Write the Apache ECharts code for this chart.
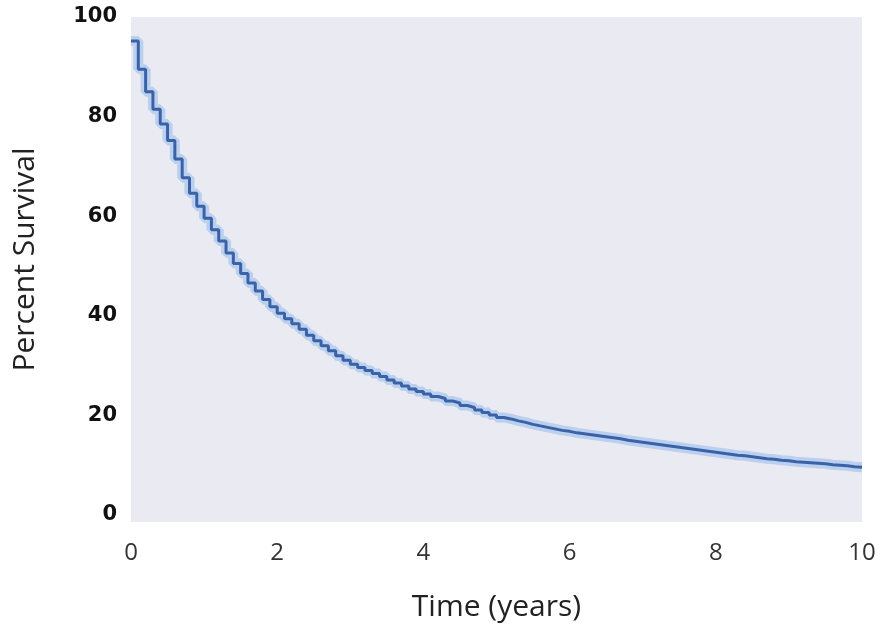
<!DOCTYPE html>
<html>
<head>
<meta charset="utf-8">
<script src="https://cdn.jsdelivr.net/npm/echarts@6/dist/echarts.min.js"></script>
<style>
  html, body { margin: 0; padding: 0; background: #fff; }
  #chart { width: 886px; height: 635px; }
</style>
</head>
<body>
<div id="chart"></div>
<script>
// survival curve (time in years, percent surviving)
const times = [
  0.0, 0.1, 0.2, 0.3, 0.4, 0.5, 0.6, 0.7, 0.8, 0.9,
  1.0, 1.1, 1.2, 1.3, 1.4, 1.5, 1.6, 1.7, 1.8, 1.9,
  2.0, 2.1, 2.2, 2.3, 2.4, 2.5, 2.6, 2.7, 2.8, 2.9,
  3.0, 3.1, 3.2, 3.3, 3.4, 3.5, 3.6, 3.7, 3.8, 3.9,
  4.0, 4.1, 4.2, 4.3, 4.4, 4.5, 4.6, 4.7, 4.8, 4.9,
  5.0, 5.1, 5.2, 5.3, 5.4, 5.5, 5.6, 5.7, 5.8, 5.9,
  6.0, 6.1, 6.2, 6.3, 6.4, 6.5, 6.6, 6.7, 6.8, 6.9,
  7.0, 7.1, 7.2, 7.3, 7.4, 7.5, 7.6, 7.7, 7.8, 7.9,
  8.0, 8.1, 8.2, 8.3, 8.4, 8.5, 8.6, 8.7, 8.8, 8.9,
  9.0, 9.1, 9.2, 9.3, 9.4, 9.5, 9.6, 9.7, 9.8, 9.9,
  10.0
];
const survival = [
  95.2, 89.5, 85.0, 81.5, 78.5, 75.2, 71.5, 67.7, 64.6, 62.0,
  59.6, 57.3, 55.0, 52.6, 50.5, 48.5, 46.6, 45.0, 43.3, 41.8,
  40.5, 39.4, 38.4, 37.3, 36.1, 35.0, 34.0, 33.0, 32.0, 31.1,
  30.3, 29.6, 29.0, 28.4, 27.8, 27.1, 26.5, 25.9, 25.3, 24.8,
  24.3, 23.8, 23.4, 22.9, 22.5, 22.0, 21.6, 21.1, 20.6, 20.1,
  19.6, 19.3, 18.9, 18.6, 18.2, 17.9, 17.6, 17.3, 17.0, 16.8,
  16.5, 16.3, 16.1, 15.9, 15.7, 15.5, 15.3, 15.0, 14.8, 14.6,
  14.4, 14.2, 14.0, 13.8, 13.6, 13.4, 13.2, 13.0, 12.8, 12.6,
  12.4, 12.2, 12.0, 11.9, 11.7, 11.5, 11.3, 11.2, 11.0, 10.9,
  10.7, 10.6, 10.5, 10.4, 10.3, 10.1, 10.0, 9.9, 9.7, 9.6,
  9.5
];
const yTicks = [0, 20, 40, 60, 80, 100];

const points = times.map((t, i) => [t, survival[i]]);

const chart = echarts.init(document.getElementById('chart'));
chart.setOption({
  animation: false,
  grid: {
    left: 131, right: 24, top: 17, bottom: 113,
    show: true, backgroundColor: '#eaeaf2', borderWidth: 0
  },
  xAxis: {
    type: 'value', min: 0, max: 10, interval: 2,
    name: 'Time (years)', nameLocation: 'middle', nameGap: 70,
    nameTextStyle: { fontFamily: 'Open Sans', fontSize: 30, color: '#222' },
    axisLine: { show: false }, axisTick: { show: false }, splitLine: { show: false },
    axisLabel: { fontFamily: 'Open Sans', fontSize: 24, color: '#333', margin: 19 }
  },
  yAxis: {
    type: 'value', min: -1.4, max: 100,
    name: 'Percent Survival', nameLocation: 'middle', nameGap: 91,
    nameTextStyle: {
      fontFamily: 'Open Sans', fontSize: 30, color: '#222',
      padding: [0, 0, 0, 20]
    },
    axisLine: { show: false }, axisTick: { show: false }, splitLine: { show: false },
    axisLabel: {
      customValues: yTicks, fontFamily: 'DejaVu Sans', fontWeight: 'bold',
      fontSize: 21, color: '#111', margin: 14
    }
  },
  series: [
    {
      // confidence band
      type: 'line', step: 'end', data: points, symbol: 'none', silent: true,
      lineStyle: { color: 'rgba(140,180,235,0.5)', width: 10 }
    },
    {
      type: 'line', step: 'end', data: points, symbol: 'none',
      lineStyle: { color: '#3a62a6', width: 3 }
    }
  ]
});
</script>
</body>
</html>
